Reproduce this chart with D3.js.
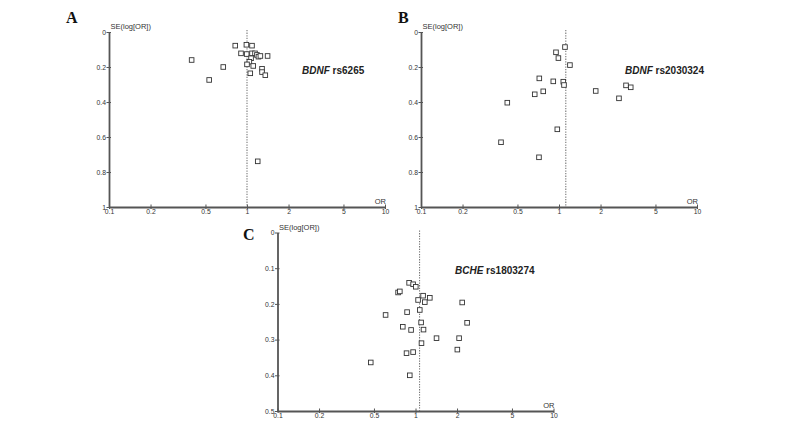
<!DOCTYPE html>
<html><head><meta charset="utf-8">
<script src="https://cdn.jsdelivr.net/npm/d3@7"></script>
<style>body{margin:0;background:#fff}svg{display:block}</style>
</head><body>
<script>
// ---- data ----
const xTickValues = [0.1, 0.2, 0.5, 1, 2, 5, 10];
const xTickLabels = ["0.1", "0.2", "0.5", "1", "2", "5", "10"];
const yTicksAB = [0, 0.2, 0.4, 0.6, 0.8, 1];
const yTickLabelsAB = ["0", "0.2", "0.4", "0.6", "0.8", "1"];
const yTicksC = [0, 0.1, 0.2, 0.3, 0.4, 0.5];
const yTickLabelsC = ["0", "0.1", "0.2", "0.3", "0.4", "0.5"];

const orA = [0.397, 0.532, 0.673, 0.822, 0.99, 1.087, 0.905, 0.995, 1.087, 1.143, 1.18, 1.21, 1.25, 1.41, 1.07, 1.04, 1.0, 1.11, 1.285, 1.056, 1.285, 1.357, 1.196];
const seA = [0.16, 0.274, 0.2, 0.078, 0.073, 0.078, 0.122, 0.126, 0.122, 0.122, 0.131, 0.141, 0.137, 0.137, 0.15, 0.17, 0.185, 0.194, 0.21, 0.236, 0.229, 0.247, 0.739];
const pooledA = 1.0;

const orB = [0.951, 0.99, 1.105, 1.20, 0.72, 0.909, 1.074, 1.087, 0.667, 0.769, 0.422, 1.845, 2.72, 3.06, 3.31, 0.38, 0.972, 0.716];
const seB = [0.116, 0.149, 0.086, 0.189, 0.265, 0.282, 0.284, 0.303, 0.356, 0.339, 0.404, 0.337, 0.379, 0.305, 0.316, 0.63, 0.556, 0.716];
const pooledB = 1.12;

const orC = [0.899, 0.961, 1.005, 0.748, 0.77, 1.135, 1.27, 1.044, 1.168, 2.18, 1.074, 0.869, 0.607, 1.098, 2.366, 0.809, 0.929, 1.143, 1.42, 2.07, 1.105, 0.861, 0.961, 2.01, 0.474, 0.909];
const seC = [0.141, 0.145, 0.152, 0.168, 0.165, 0.177, 0.183, 0.189, 0.195, 0.196, 0.217, 0.223, 0.231, 0.252, 0.253, 0.264, 0.273, 0.272, 0.296, 0.296, 0.31, 0.338, 0.335, 0.328, 0.364, 0.40];
const pooledC = 1.07;

const panels = [
  {letter: "A", gene: "BDNF", snp: " rs6265", or: orA, se: seA, pooled: pooledA, yTicks: yTicksAB, yLabels: yTickLabelsAB, yMax: 1,
   x0: 109, x1: 385, y0: 32, y1: 207, letterX: 66, letterY: 23, labelX: 302, labelY: 74},
  {letter: "B", gene: "BDNF", snp: " rs2030324", or: orB, se: seB, pooled: pooledB, yTicks: yTicksAB, yLabels: yTickLabelsAB, yMax: 1,
   x0: 421, x1: 697, y0: 32, y1: 207, letterX: 398, letterY: 23, labelX: 625, labelY: 74},
  {letter: "C", gene: "BCHE", snp: " rs1803274", or: orC, se: seC, pooled: pooledC, yTicks: yTicksC, yLabels: yTickLabelsC, yMax: 0.5,
   x0: 277.5, x1: 553.5, y0: 232.5, y1: 411, letterX: 243, letterY: 240, labelX: 455, labelY: 274}
];

const svg = d3.select("body").append("svg").attr("width", 800).attr("height", 424);
const sans = "Liberation Sans, Arial, sans-serif";

panels.forEach(p => {
  const g = svg.append("g");
  const x = d3.scaleLog().domain([0.1, 10]).range([p.x0, p.x1]);
  const y = d3.scaleLinear().domain([0, p.yMax]).range([p.y0, p.y1]);

  // y axis
  const yAxis = d3.axisLeft(y).tickValues(p.yTicks).tickFormat((d, i) => p.yLabels[i]).tickSize(3).tickSizeOuter(0);
  const ya = g.append("g").attr("transform", `translate(${p.x0},0)`).call(yAxis);
  ya.select(".domain").attr("stroke", "#555").attr("stroke-width", 1.8);
  ya.selectAll(".tick line").attr("stroke", "#555").attr("x1", 2).attr("x2", -2.5);
  ya.selectAll(".tick text").attr("x", -3).attr("font-family", sans).attr("font-size", 6.8).attr("fill", "#333");

  // x axis
  const xAxis = d3.axisBottom(x).tickValues(xTickValues).tickFormat((d, i) => xTickLabels[i]).tickSize(3).tickSizeOuter(0);
  const xa = g.append("g").attr("transform", `translate(0,${p.y1})`).call(xAxis);
  xa.select(".domain").attr("stroke", "#555").attr("stroke-width", 1.8);
  xa.selectAll(".tick line").attr("stroke", "#555").attr("y1", -2.5).attr("y2", 2);
  xa.selectAll(".tick text").attr("y", 2.5).attr("font-family", sans).attr("font-size", 6.8).attr("fill", "#333");

  // pooled OR dotted line
  g.append("line")
    .attr("x1", x(p.pooled)).attr("x2", x(p.pooled))
    .attr("y1", p.y0 - 2).attr("y2", p.y1)
    .attr("stroke", "#777").attr("stroke-width", 1.1).attr("stroke-dasharray", "1.3,1.3");

  // points
  const s = 4.6;
  g.selectAll("rect.pt").data(p.or.map((v, i) => ({or: v, se: p.se[i]})))
    .enter().append("rect").attr("class", "pt")
    .attr("x", d => x(d.or) - s / 2).attr("y", d => y(d.se) - s / 2)
    .attr("width", s).attr("height", s)
    .attr("fill", "#fff").attr("stroke", "#333").attr("stroke-width", 0.9);

  // axis titles
  g.append("text").attr("x", p.x0 + 1.5).attr("y", p.y0 - 3)
    .attr("font-family", sans).attr("font-size", 7.5).attr("fill", "#333")
    .text("SE(log[OR])");
  g.append("text").attr("x", p.x1 + 1).attr("y", p.y1 - 3).attr("text-anchor", "end")
    .attr("font-family", sans).attr("font-size", 7.5).attr("fill", "#333")
    .text("OR");

  // panel letter
  g.append("text").attr("x", p.letterX).attr("y", p.letterY)
    .attr("font-family", "Liberation Serif, Times New Roman, serif").attr("font-weight", "bold").attr("font-size", 16).attr("fill", "#111")
    .text(p.letter);

  // gene label
  const t = g.append("text").attr("x", p.labelX).attr("y", p.labelY)
    .attr("font-family", sans).attr("font-weight", "bold").attr("font-size", 10).attr("fill", "#222");
  t.append("tspan").attr("font-style", "italic").text(p.gene);
  t.append("tspan").text(p.snp);
});
</script>
</body></html>
